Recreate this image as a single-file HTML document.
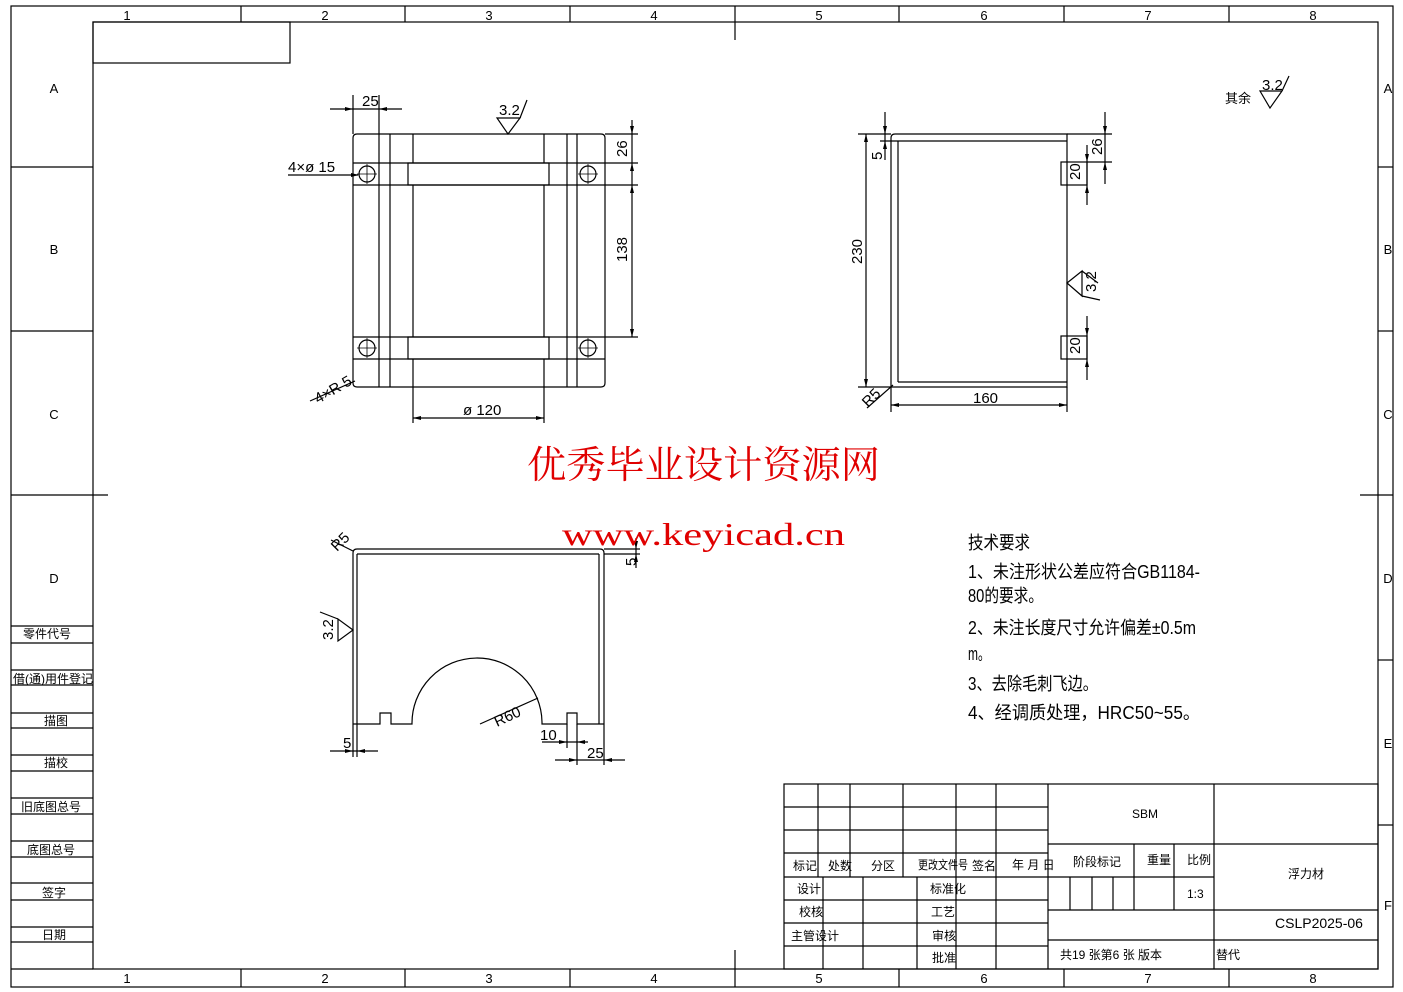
<!DOCTYPE html>
<html><head><meta charset="utf-8"><style>
html,body{margin:0;padding:0;background:#fff;}
svg{display:block;}
text{font-family:"Liberation Sans","Noto Sans CJK SC",sans-serif;fill:#000;}
.t{font-size:13px;}
</style></head><body>
<svg width="1403" height="992" viewBox="0 0 1403 992" xmlns="http://www.w3.org/2000/svg">
<g stroke="#000" stroke-width="1.2" fill="none">
<rect x="11" y="6" width="1382" height="981"/>
<rect x="93" y="22" width="1285" height="947"/>
<line x1="11" y1="969" x2="93" y2="969"/>
<g>
<line x1="241" y1="6" x2="241" y2="22"/><line x1="405" y1="6" x2="405" y2="22"/><line x1="570" y1="6" x2="570" y2="22"/><line x1="735" y1="6" x2="735" y2="40"/><line x1="899" y1="6" x2="899" y2="22"/><line x1="1064" y1="6" x2="1064" y2="22"/><line x1="1229" y1="6" x2="1229" y2="22"/>
<line x1="241" y1="969" x2="241" y2="987"/><line x1="405" y1="969" x2="405" y2="987"/><line x1="570" y1="969" x2="570" y2="987"/><line x1="735" y1="950" x2="735" y2="987"/><line x1="899" y1="969" x2="899" y2="987"/><line x1="1064" y1="969" x2="1064" y2="987"/><line x1="1229" y1="969" x2="1229" y2="987"/>
<line x1="11" y1="167" x2="93" y2="167"/><line x1="11" y1="331" x2="93" y2="331"/><line x1="11" y1="495" x2="108" y2="495"/>
<line x1="1378" y1="167" x2="1393" y2="167"/><line x1="1378" y1="331" x2="1393" y2="331"/><line x1="1360" y1="495" x2="1393" y2="495"/><line x1="1378" y1="660" x2="1393" y2="660"/><line x1="1378" y1="825" x2="1393" y2="825"/>
</g>
<rect x="93" y="22" width="197" height="41"/>
<g>
<line x1="11" y1="626" x2="93" y2="626"/><line x1="11" y1="643" x2="93" y2="643"/>
<line x1="11" y1="670" x2="93" y2="670"/><line x1="11" y1="685" x2="93" y2="685"/>
<line x1="11" y1="713" x2="93" y2="713"/><line x1="11" y1="728" x2="93" y2="728"/>
<line x1="11" y1="755" x2="93" y2="755"/><line x1="11" y1="771" x2="93" y2="771"/>
<line x1="11" y1="798" x2="93" y2="798"/><line x1="11" y1="814" x2="93" y2="814"/>
<line x1="11" y1="841" x2="93" y2="841"/><line x1="11" y1="857" x2="93" y2="857"/>
<line x1="11" y1="883" x2="93" y2="883"/><line x1="11" y1="900" x2="93" y2="900"/>
<line x1="11" y1="927" x2="93" y2="927"/><line x1="11" y1="942" x2="93" y2="942"/>
</g>

<path d="M357 134 H601 Q605 134 605 138 V383 Q605 387 601 387 H357 Q353 387 353 383 V138 Q353 134 357 134 Z"/>
<line x1="379" y1="134" x2="379" y2="387"/><line x1="390" y1="134" x2="390" y2="387"/>
<line x1="567" y1="134" x2="567" y2="387"/><line x1="577" y1="134" x2="577" y2="387"/>
<line x1="413" y1="134" x2="413" y2="163"/><line x1="544" y1="134" x2="544" y2="163"/>
<line x1="413" y1="185" x2="413" y2="337"/><line x1="544" y1="185" x2="544" y2="337"/>
<line x1="413" y1="359" x2="413" y2="423"/><line x1="544" y1="359" x2="544" y2="423"/>
<line x1="353" y1="163" x2="638" y2="163"/><line x1="353" y1="185" x2="638" y2="185"/>
<line x1="353" y1="337" x2="638" y2="337"/><line x1="353" y1="359" x2="605" y2="359"/>
<rect x="408" y="163" width="141" height="22"/><rect x="408" y="337" width="141" height="22"/>
<circle cx="367" cy="174" r="8"/><circle cx="588" cy="174" r="8"/><circle cx="367" cy="348" r="8"/><circle cx="588" cy="348" r="8"/>
<path d="M357 174h20M367 164v20M578 174h20M588 164v20M357 348h20M367 338v20M578 348h20M588 338v20" stroke-width="0.8"/>
<line x1="605" y1="134" x2="638" y2="134"/>
<line x1="632" y1="120" x2="632" y2="337"/>
<line x1="330" y1="109" x2="402" y2="109"/><line x1="353" y1="95" x2="353" y2="134"/><line x1="379" y1="95" x2="379" y2="134"/>
<path d="M497 118 H520 L508 134 Z M520 118 L527 100"/>
<line x1="288" y1="175" x2="358" y2="175"/>
<line x1="310" y1="401" x2="355" y2="381"/>
<line x1="413" y1="418" x2="544" y2="418"/>

<path d="M891 387 V138 Q891 134 895 134 H1067 V387 Z"/>
<line x1="898" y1="141" x2="898" y2="382"/><line x1="898" y1="141" x2="1067" y2="141"/><line x1="898" y1="382" x2="1067" y2="382"/>
<rect x="1061" y="162" width="26" height="23"/><rect x="1061" y="336" width="26" height="23"/>
<line x1="858" y1="134" x2="891" y2="134"/><line x1="858" y1="387" x2="891" y2="387"/>
<line x1="866" y1="134" x2="866" y2="387"/>
<line x1="885" y1="112" x2="885" y2="160"/><line x1="880" y1="141" x2="898" y2="141"/>
<line x1="1067" y1="134" x2="1112" y2="134"/><line x1="1087" y1="162" x2="1112" y2="162"/>
<line x1="1105" y1="112" x2="1105" y2="184"/>
<line x1="1087" y1="145" x2="1087" y2="205"/><line x1="1087" y1="316" x2="1087" y2="380"/>
<path d="M1067 283 L1082 271 V296 Z M1082 296 L1100 300 M1082 271 L1098 283"/>
<line x1="891" y1="387" x2="891" y2="412"/><line x1="1067" y1="387" x2="1067" y2="412"/>
<line x1="891" y1="405" x2="1067" y2="405"/>
<line x1="867" y1="408" x2="893" y2="385"/>

<path d="M353 724 V553 Q353 549 357 549 H600 Q604 549 604 553 V724"/>
<line x1="357" y1="554" x2="357" y2="757"/><line x1="357" y1="554" x2="599" y2="554"/><line x1="599" y1="554" x2="599" y2="724"/>
<path d="M353 724 H380 V713 H391 V724 H412 A65 65 0 0 1 542 722 V724 H567 V713 H577 V724 H604"/>
<line x1="353" y1="724" x2="353" y2="757"/>
<line x1="330" y1="751" x2="378" y2="751"/>
<line x1="577" y1="724" x2="577" y2="765"/><line x1="567" y1="724" x2="567" y2="748"/>
<line x1="542" y1="742" x2="588" y2="742"/>
<line x1="555" y1="760" x2="625" y2="760"/><line x1="604" y1="724" x2="604" y2="765"/>
<line x1="480" y1="724" x2="538" y2="698"/>
<line x1="331" y1="540" x2="353" y2="551"/>
<line x1="604" y1="549" x2="640" y2="549"/><line x1="604" y1="554" x2="640" y2="554"/><line x1="636" y1="538" x2="636" y2="568"/>
<path d="M353 630 L338 619 V641 Z M338 619 L320 612"/>

<rect x="784" y="784" width="594" height="185"/>
<line x1="784" y1="807" x2="1048" y2="807"/><line x1="784" y1="830" x2="1048" y2="830"/><line x1="784" y1="853" x2="1048" y2="853"/>
<line x1="784" y1="877" x2="1048" y2="877"/><line x1="784" y1="900" x2="1048" y2="900"/><line x1="784" y1="923" x2="1048" y2="923"/><line x1="784" y1="946" x2="1048" y2="946"/>
<line x1="818" y1="784" x2="818" y2="877"/><line x1="850" y1="784" x2="850" y2="877"/><line x1="903" y1="784" x2="903" y2="877"/>
<line x1="956" y1="784" x2="956" y2="969"/><line x1="996" y1="784" x2="996" y2="969"/><line x1="1048" y1="784" x2="1048" y2="969"/>
<line x1="823" y1="877" x2="823" y2="969"/><line x1="863" y1="877" x2="863" y2="969"/><line x1="917" y1="877" x2="917" y2="969"/>
<line x1="1214" y1="784" x2="1214" y2="969"/>
<line x1="1048" y1="844" x2="1378" y2="844"/><line x1="1048" y1="877" x2="1214" y2="877"/>
<line x1="1048" y1="910" x2="1378" y2="910"/><line x1="1048" y1="940" x2="1378" y2="940"/>
<line x1="1070" y1="877" x2="1070" y2="910"/><line x1="1092" y1="877" x2="1092" y2="910"/><line x1="1113" y1="877" x2="1113" y2="910"/>
<line x1="1134" y1="844" x2="1134" y2="910"/><line x1="1174" y1="844" x2="1174" y2="910"/>
<path d="M1260 91 H1282 L1270 108 Z M1282 91 L1289 76"/>
</g>
<g fill="#000">
<path d="M353 109 l-8 -2 v4z M379 109 l8 -2 v4z"/>
<path d="M632 134 l-2 -8 h4z M632 163 l-2 8 h4z M632 185 l-2 8 h4z M632 337 l-2 -8 h4z"/>
<path d="M413 418 l8 -2 v4z M544 418 l-8 -2 v4z"/>
<path d="M359 175 l-8 -2 v4z"/>
<path d="M866 134 l-2 8 h4z M866 387 l-2 -8 h4z M891 405 l8 -2 v4z M1067 405 l-8 -2 v4z"/>
<path d="M885 134 l-2 -8 h4z M885 141 l-2 8 h4z M1105 134 l-2 -8 h4z M1105 162 l-2 8 h4z"/>
<path d="M1087 162 l-2 -8 h4z M1087 185 l-2 8 h4z M1087 336 l-2 -8 h4z M1087 359 l-2 8 h4z"/>
<path d="M353 751 l-8 -2 v4z M357 751 l8 -2 v4z M567 742 l-8 -2 v4z M577 742 l8 -2 v4z M577 760 l-8 -2 v4z M604 760 l8 -2 v4z"/>
<path d="M636 549 l-2 -8 h4z M636 554 l-2 8 h4z"/>
</g>
<g class="t" text-anchor="middle" font-size="14">
<text x="127" y="20">1</text><text x="325" y="20">2</text><text x="489" y="20">3</text><text x="654" y="20">4</text><text x="819" y="20">5</text><text x="984" y="20">6</text><text x="1148" y="20">7</text><text x="1313" y="20">8</text>
<text x="127" y="983">1</text><text x="325" y="983">2</text><text x="489" y="983">3</text><text x="654" y="983">4</text><text x="819" y="983">5</text><text x="984" y="983">6</text><text x="1148" y="983">7</text><text x="1313" y="983">8</text>
<text x="54" y="93">A</text><text x="54" y="254">B</text><text x="54" y="419">C</text><text x="54" y="583">D</text>
<text x="1388" y="93">A</text><text x="1388" y="254">B</text><text x="1388" y="419">C</text><text x="1388" y="583">D</text><text x="1388" y="748">E</text><text x="1388" y="910">F</text>
</g>
<g font-size="12" text-anchor="middle">
<text x="47" y="638">零件代号</text><text x="53" y="683">借(通)用件登记</text><text x="56" y="725">描图</text><text x="56" y="767">描校</text>
<text x="51" y="811">旧底图总号</text><text x="51" y="854">底图总号</text><text x="54" y="897">签字</text><text x="54" y="939">日期</text>
</g>
<g font-size="15">
<text x="362" y="106">25</text>
<text x="499" y="115">3.2</text>
<text x="288" y="172">4×ø 15</text>
<text x="463" y="415">ø 120</text>
<text transform="translate(627,157) rotate(-90)">26</text>
<text transform="translate(627,262) rotate(-90)">138</text>
<text transform="translate(318,404) rotate(-30)">4×R 5</text>
<text transform="translate(862,264) rotate(-90)">230</text>
<text transform="translate(882,160) rotate(-90)">5</text>
<text transform="translate(1080,180) rotate(-90)">20</text>
<text transform="translate(1080,354) rotate(-90)">20</text>
<text transform="translate(1102,155) rotate(-90)">26</text>
<text transform="translate(1096,292) rotate(-90)">3.2</text>
<text x="973" y="403">160</text>
<text transform="translate(868,408) rotate(-45)">R5</text>
<text transform="translate(337,552) rotate(-45)">R5</text>
<text transform="translate(636,566) rotate(-90)">5</text>
<text transform="translate(333,640) rotate(-90)">3.2</text>
<text transform="translate(497,727) rotate(-25)">R60</text>
<text x="343" y="748">5</text>
<text x="540" y="740">10</text>
<text x="587" y="758">25</text>
<text x="1262" y="90">3.2</text>
</g>
<text x="1225" y="103" font-size="13">其余</text>
<text x="527" y="478" font-size="38" textLength="353" lengthAdjust="spacingAndGlyphs" style="font-family:'Liberation Serif','Noto Serif CJK SC',serif;fill:#e00000">优秀毕业设计资源网</text>
<text x="562" y="545" font-size="32" textLength="283" lengthAdjust="spacingAndGlyphs" style="font-family:'Liberation Serif','Noto Serif CJK SC',serif;fill:#e00000">www.keyicad.cn</text>
<g font-size="18">
<text x="968" y="549" textLength="62" lengthAdjust="spacingAndGlyphs">技术要求</text>
<text x="968" y="578" textLength="232" lengthAdjust="spacingAndGlyphs">1、未注形状公差应符合GB1184-</text>
<text x="968" y="602" textLength="75" lengthAdjust="spacingAndGlyphs">80的要求。</text>
<text x="968" y="634" textLength="228" lengthAdjust="spacingAndGlyphs">2、未注长度尺寸允许偏差±0.5m</text>
<text x="968" y="660" textLength="22" lengthAdjust="spacingAndGlyphs">m。</text>
<text x="968" y="690" textLength="130" lengthAdjust="spacingAndGlyphs">3、去除毛刺飞边。</text>
<text x="968" y="719" textLength="232" lengthAdjust="spacingAndGlyphs">4、经调质处理，HRC50~55。</text>
</g>
<g font-size="12">
<text x="793" y="870">标记</text><text x="828" y="870">处数</text><text x="871" y="870">分区</text><text x="918" y="869" textLength="50" lengthAdjust="spacingAndGlyphs">更改文件号</text><text x="972" y="870">签名</text><text x="1012" y="869">年 月 日</text>
<text x="797" y="893">设计</text><text x="799" y="916">校核</text><text x="791" y="940">主管设计</text>
<text x="930" y="893">标准化</text><text x="931" y="916">工艺</text><text x="932" y="940">审核</text><text x="932" y="962">批准</text>
<text x="1073" y="866">阶段标记</text><text x="1147" y="864">重量</text><text x="1187" y="864">比例</text>
<text x="1187" y="898">1:3</text>
<text x="1132" y="818">SBM</text>
<text x="1288" y="878">浮力材</text>
<text x="1275" y="928" font-size="14">CSLP2025-06</text>
<text x="1060" y="959">共19 张第6 张 版本</text>
<text x="1216" y="959">替代</text>
</g>
</svg>
</body></html>
